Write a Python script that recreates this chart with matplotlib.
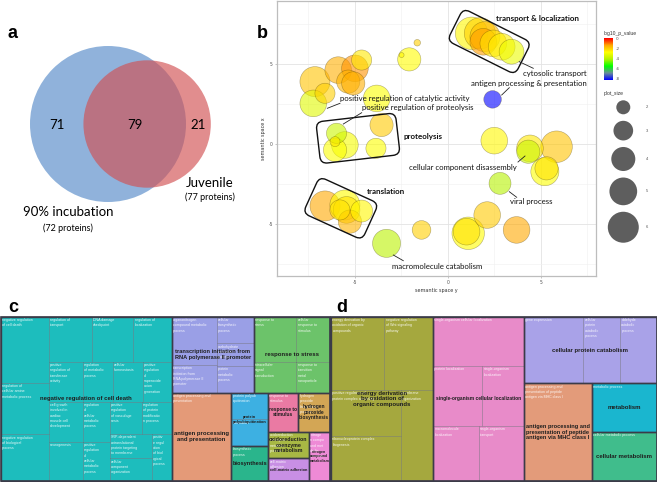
import textwrap
import numpy as np
import matplotlib
matplotlib.use("Agg")
import matplotlib.pyplot as plt
from matplotlib.patches import Circle, Rectangle, FancyBboxPatch
from matplotlib.colors import LinearSegmentedColormap, Normalize
from matplotlib.cm import ScalarMappable
from matplotlib.transforms import Affine2D
from matplotlib.textpath import TextPath
from matplotlib.font_manager import FontProperties

plt.rcParams["axes.unicode_minus"] = False

# ---------------- data: panel a (Venn) ----------------
venn_only_a = 71
venn_both = 79
venn_only_b = 21
venn_names = ["90% incubation", "Juvenile"]
venn_subs = ["(72 proteins)", "(77 proteins)"]

# ---------------- data: panel b (REVIGO scatter) ----------------
b_x = [-7.15, -6.61, -7.24, -5.90, -5.36, -5.00, -5.09, -4.64, -3.83, -2.49, -2.08, -1.65,
       -5.99, -6.07, -6.07, -5.54, -3.57, -3.87,
       -6.61, -5.54, -5.45, -5.27, -4.64, -5.81,
       -3.30, -1.42, 1.09, 1.00, 2.11, 3.69, 2.80, 2.49, 4.41, 4.32, 5.84, 5.21, 5.30, 2.40,
       1.27, 1.72, 1.99, 1.90, 2.44, 2.89, 3.42]
b_y = [3.90, 3.17, 2.54, 4.62, 3.90, 4.73, 3.79, 5.25, 2.85, 5.56, 5.29, 6.33,
       0.67, 0.15, -0.37, -0.06, 1.19, -0.27,
       -3.87, -3.81, -4.12, -4.85, -4.19, -4.12,
       -6.21, -5.37, -5.58, -5.48, -4.44, -5.37, -2.46, 0.21, -0.27, -0.48, -0.17, -1.73, -1.52, 2.79,
       6.92, 6.92, 6.71, 6.39, 6.29, 6.08, 5.77]
b_size = [5.7, 3.1, 4.7, 4.7, 3.8, 4.7, 3.8, 3.1, 4.7, 1.1, 3.8, 1.2,
          3.1, 1.5, 3.8, 4.7, 3.8, 3.1,
          5.7, 5.7, 4.7, 3.8, 3.5, 3.1,
          5.1, 2.8, 6.5, 4.7, 4.7, 4.7, 3.5, 4.7, 4.7, 3.8, 6.2, 5.1, 3.8, 2.6,
          6.5, 6.1, 5.7, 4.7, 4.7, 4.7, 4.2]
b_logp = [-1.8, -2.0, -3.3, -1.5, -1.6, -1.2, -1.5, -2.4, -2.8, -2.6, -2.7, -2.0,
          -3.7, -2.4, -2.8, -2.9, -1.9, -2.8,
          -1.4, -2.7, -2.3, -1.6, -2.6, -2.3,
          -4.0, -2.0, -2.7, -2.3, -1.9, -1.4, -4.1, -2.6, -2.4, -3.7, -1.8, -2.8, -2.3, -8.2,
          -2.6, -2.0, -1.7, -1.3, -2.3, -2.5, -3.1]
legend_sizes = [2, 3, 4, 5, 6]
cbar_ticks = [0, -2, -4, -6, -8]
b_xticks = [-5, 0, 5]
b_yticks = [-5, 0, 5]

# annotations of panel b: text, x, y (px), bold, leader line (x0, y0, x1, y1) or None
b_notes = [
    ("transport & localization", 537, 18, True, None),
    ("cytosolic transport", 555, 73.3, False, (519.3, 61.7, 533.3, 68.3)),
    ("antigen processing & presentation", 529.3, 83.3, False, (501.7, 95, 509.3, 87.7)),
    ("positive regulation of catalytic activity", 405, 99, False, (327.3, 108.3, 340, 103.3)),
    ("positive regulation of proteolysis", 417.7, 107.7, False, (343.3, 124, 361.7, 112.7)),
    ("proteolysis", 423.3, 136, True, None),
    ("cellular component disassembly", 462.7, 167.3, False, (518, 162, 525, 156)),
    ("translation", 386.3, 191, True, None),
    ("viral process", 531, 201.7, False, (509.3, 191.7, 516.7, 197.3)),
    ("macromolecule catabolism", 436.7, 266.7, False, (393.3, 255, 403.3, 260.7)),
]
# rounded cluster boxes: cx, cy, w, h, angle (px, screen)
b_boxes = [(489.2, 41.5, 76, 36, 26.6), (358, 138.3, 80, 42, -6.6), (340.8, 208.3, 65, 40, 24.5)]

# ---------------- data: panel c (treemap) ----------------
c_terms = ["negative regulation of cell death", "regulation of cellular amine metabolic process",
           "negative regulation of biological process", "regulation of transport", "DNA damage checkpoint",
           "regulation of localization", "positive regulation of transferase activity",
           "cell growth involved in cardiac muscle cell development", "neurogenesis",
           "regulation of metabolic process", "cellular homeostasis",
           "positive regulation of superoxide anion generation", "regulation of cellular metabolic process",
           "positive regulation of cellular metabolic process", "positive regulation of vasculogenesis",
           "regulation of protein modification process",
           "SRP-dependent cotranslational protein targeting to membrane", "cellular component organization",
           "positive regulation of biological process",
           "organonitrogen compound metabolic process", "transcription initiation from RNA polymerase II promoter",
           "cellular biosynthetic process", "carbohydrate metabolic process", "protein metabolic process",
           "response to stress", "intracellular signal transduction", "cellular response to stimulus",
           "response to transition metal nanoparticle",
           "antigen processing and presentation",
           "protein polyubiquitination", "translation", "biosynthetic process",
           "response to stimulus", "hydrogen peroxide biosynthetic process",
           "oxidoreduction coenzyme metabolic process", "cell-matrix adhesion",
           "nitrogen compound metabolic process"]
c_values = [28710, 22475, 20155, 17550, 16875, 15525, 12240, 12240, 11934, 10920, 10800, 10440,
            9720, 9477, 9409, 8730, 9271, 8509, 8400,
            19575, 11205, 8960, 7616, 8960,
            17280, 11904, 13500, 9300,
            47520, 8800, 8800, 11440, 10530, 11115, 9840, 8241, 9114]
c_group = [0] * 19 + [1] * 5 + [2] * 4 + [3, 4, 4, 5, 6, 7, 8, 9, 10]
c_group_labels = ["negative regulation of cell death",
                  "transcription initiation from\nRNA polymerase II promoter",
                  "response to stress", "antigen processing\nand presentation",
                  "protein\npolyubiquitination", "biosynthesis", "response to\nstimulus",
                  "hydrogen\nperoxide\nbiosynthesis", "oxidoreduction\ncoenzyme\nmetabolism",
                  "cell-matrix adhesion", "nitrogen\ncompound\nmetabolism"]
c_group_colors = ["#1dbdbd", "#9a9fe6", "#6cc36a", "#e49a78", "#3db0e2", "#2ab58c",
                  "#ea7aa3", "#d3a655", "#a8b844", "#c88fe4", "#ee8ad6"]
c_layout = ("h", [
    ("h", [("v", [0, 1, 2]),
           ("v", [("h", [3, 4, 5]),
                  ("h", [("v", [6, 7, 8]),
                         ("v", [("h", [9, 10, 11]),
                                ("h", [("v", [12, 13]),
                                       ("v", [("h", [14, 15]),
                                              ("h", [("v", [16, 17]), 18])])])])])])]),
    ("v", [("h", [("h", [("v", [19, 20]), ("v", [21, 22, 23])]),
                  ("h", [("v", [24, 25]), ("v", [26, 27])])]),
           ("h", [28,
                  ("v", [("v", [29, 30]), 31]),
                  ("v", [("h", [32, 33]), ("h", [("v", [34, 35]), 36])])])])])

# ---------------- data: panel d (treemap) ----------------
d_terms = ["energy derivation by oxidation of organic compounds",
           "negative regulation of Wnt signaling pathway",
           "positive regulation of protein complex assembly", "ribonucleoprotein complex biogenesis",
           "membrane organization",
           "single-organism cellular localization", "protein localization", "single-organism localization",
           "macromolecule localization", "single-organism transport",
           "gene expression", "cellular protein catabolic process", "aldehyde catabolic process",
           "antigen processing and presentation of peptide antigen via MHC class I",
           "metabolic process", "cellular metabolic process"]
d_values = [35200, 32340, 28980, 28140, 26384, 40404, 26640, 22500, 22632, 22140,
            36000, 22000, 22000, 59860, 28275, 28665]
d_group = [0] * 5 + [1] * 5 + [2] * 3 + [3, 4, 5]
d_group_labels = ["energy derivation\nby oxidation of\norganic compounds",
                  "single-organism cellular localization", "cellular protein catabolism",
                  "antigen processing and\npresentation of peptide\nantigen via MHC class I",
                  "metabolism", "cellular metabolism"]
d_group_colors = ["#a5a83e", "#e88bc9", "#a9a2e8", "#e39b7a", "#1ab6cf", "#40bd8c"]
d_layout = ("h", [
    ("v", [("h", [0, 1]), ("h", [("v", [2, 3]), 4])]),
    ("v", [5, ("h", [6, 7]), ("h", [8, 9])]),
    ("v", [("h", [10, 11, 12]), ("h", [13, ("v", [14, 15])])])])

# ---------------- figure ----------------
W, H = 657, 482
fig = plt.figure(figsize=(W / 100, H / 100), dpi=100)
ov = fig.add_axes([0, 0, 1, 1])
ov.set_xlim(0, W)
ov.set_ylim(H, 0)
ov.axis("off")
ov.set_zorder(10)
ov.patch.set_alpha(0)

LATO = "Lato"
SANS = "Liberation Sans"

# panel letters
for lab, (lx, ly) in zip("abcd", [(13, 33), (262, 33), (13, 307), (342, 307)]):
    ov.text(lx, ly, lab, fontsize=13, fontweight="bold", family=SANS, ha="center", va="center")

# ---------------- panel a ----------------
n_a = venn_only_a + venn_both
n_b = venn_only_b + venn_both
k = 78 / np.sqrt(n_a)
r_a, r_b = k * np.sqrt(n_a), k * np.sqrt(n_b)
target = venn_both * np.pi * k ** 2


def lens(d, r1, r2):
    a1 = r1 ** 2 * np.arccos((d ** 2 + r1 ** 2 - r2 ** 2) / (2 * d * r1))
    a2 = r2 ** 2 * np.arccos((d ** 2 + r2 ** 2 - r1 ** 2) / (2 * d * r2))
    a3 = 0.5 * np.sqrt((-d + r1 + r2) * (d + r1 - r2) * (d - r1 + r2) * (d + r1 + r2))
    return a1 + a2 - a3


lo, hi = abs(r_a - r_b) + 1e-6, r_a + r_b - 1e-6
for _ in range(80):
    mid = 0.5 * (lo + hi)
    if lens(mid, r_a, r_b) > target:
        lo = mid
    else:
        hi = mid
dist = 0.5 * (lo + hi)
cxa, cy = 108, 124
cxb = cxa + dist
ov.add_patch(Circle((cxa, cy), r_a, facecolor=(70 / 255, 128 / 255, 195 / 255), alpha=0.6, lw=0))
ov.add_patch(Circle((cxb, cy), r_b, facecolor=(209 / 255, 80 / 255, 82 / 255), alpha=0.65, lw=0))
num_y = cy + 1
ov.text(((cxa - r_a) + (cxb - r_b)) / 2, num_y, str(venn_only_a), fontsize=9.5, family=LATO, ha="center", va="center")
ov.text(((cxb - r_b) + (cxa + r_a)) / 2, num_y, str(venn_both), fontsize=9.5, family=LATO, ha="center", va="center")
ov.text(((cxa + r_a) + (cxb + r_b)) / 2, num_y, str(venn_only_b), fontsize=9.5, family=LATO, ha="center", va="center")
ov.text(cxa - 40, cy + r_a + 10, venn_names[0], fontsize=9.5, family=LATO, ha="center", va="center")
ov.text(cxa - 40, cy + r_a + 26, venn_subs[0], fontsize=6.5, family=LATO, ha="center", va="center")
ov.text(cxb + r_b - 1, cy + 59, venn_names[1], fontsize=9.5, family=LATO, ha="center", va="center")
ov.text(cxb + r_b - 1, cy + 73, venn_subs[1], fontsize=6.5, family=LATO, ha="center", va="center")

# ---------------- panel b ----------------
ax = fig.add_axes([277 / W, 1 - 276 / H, 319 / W, 275 / H])
ax.set_xlim(-9.19, 7.96)
ax.set_ylim(-8.25, 8.94)
ax.set_xticks(b_xticks)
ax.set_yticks(b_yticks)
ax.set_xticks([-7.5, -2.5, 2.5, 7.5], minor=True)
ax.set_yticks([-7.5, -2.5, 2.5, 7.5], minor=True)
ax.grid(True, which="major", color="#e3e3e3", lw=0.6)
ax.grid(True, which="minor", color="#f0f0f0", lw=0.4)
ax.set_axisbelow(True)
for s in ax.spines.values():
    s.set_color("#bdbdbd")
    s.set_linewidth(0.9)
ax.tick_params(which="major", labelsize=3.3, labelcolor="#555555", color="#999999", length=1.5, width=0.4, pad=1.5)
ax.tick_params(which="minor", length=0)
ax.set_xlabel("semantic space y", fontsize=3.5, color="#333333", labelpad=2)
ax.set_ylabel("semantic space x", fontsize=3.5, color="#333333", labelpad=2)

# blue -> green -> yellow -> red with perceptual-like midpoints (as ggplot's Lab interpolation)
cmap = LinearSegmentedColormap.from_list(
    "rev", [(0, "#0000ff"), (1 / 6, "#6a8e9a"), (1 / 3, "#00ff00"), (0.5, "#b5f200"),
            (2 / 3, "#ffff00"), (5 / 6, "#ffa800"), (1, "#ff0000")])
norm = Normalize(vmin=min(b_logp), vmax=0)


def size_to_pts2(v):
    diam_px = np.sqrt(np.maximum(196 + 191 * (np.asarray(v, float) - 2), 4))
    return (diam_px * 0.72) ** 2


order = np.argsort(-np.asarray(b_size), kind="stable")
bx = np.asarray(b_x)[order]
by = np.asarray(b_y)[order]
bs = np.asarray(b_size)[order]
bp = np.asarray(b_logp)[order]
cols = cmap(norm(bp))
cols[:, 3] = 0.6
ax.scatter(bx, by, s=size_to_pts2(bs), c=cols, edgecolors=(0.25, 0.2, 0, 0.4), linewidths=0.4, zorder=3)

for txt, tx, ty, bold, ln in b_notes:
    ov.text(tx, ty, txt, fontsize=5.6 if not bold else 5.8, family=LATO,
            fontweight="bold" if bold else "normal", ha="center", va="center", color="#111111")
    if ln is not None:
        ov.plot([ln[0], ln[2]], [ln[1], ln[3]], color="#222222", lw=0.6)

for bcx, bcy, bw, bh, ang in b_boxes:
    p = FancyBboxPatch((bcx - bw / 2, bcy - bh / 2), bw, bh,
                       boxstyle="round,pad=0,rounding_size=7", fill=False, ec="#111111", lw=1.0)
    p.set_transform(Affine2D().rotate_deg_around(bcx, bcy, ang) + ov.transData)
    ov.add_patch(p)

# colour bar
cax = fig.add_axes([604 / W, 1 - 80 / H, 8.7 / W, 41.7 / H])
cb = fig.colorbar(ScalarMappable(norm=norm, cmap=cmap), cax=cax, ticks=cbar_ticks)
cb.outline.set_visible(False)
cax.tick_params(labelsize=3, labelcolor="#555555", length=0, pad=2)
ov.text(604, 33, "log10_p_value", fontsize=3.6, color="#333333", ha="left", va="center", family=SANS)
ov.text(604, 93, "plot_size", fontsize=3.6, color="#333333", ha="left", va="center", family=SANS)

# size legend
leg_ax = fig.add_axes([0, 0, 1, 1])
leg_ax.set_xlim(0, W)
leg_ax.set_ylim(H, 0)
leg_ax.axis("off")
leg_ax.patch.set_alpha(0)
diams = np.sqrt(196 + 191 * (np.asarray(legend_sizes, float) - 2))
ycent = [107.3]
for i in range(1, len(legend_sizes)):
    ycent.append(ycent[-1] + (diams[i - 1] + diams[i]) / 2 + 6.5)
leg_ax.scatter([623.3] * len(legend_sizes), ycent, s=size_to_pts2(legend_sizes), c="#5e5e5e", lw=0)
for v, yy in zip(legend_sizes, ycent):
    leg_ax.text(647.3, yy, str(v), fontsize=3, color="#555555", ha="center", va="center", family=SANS)


# ---------------- treemaps ----------------
def node_sum(node, vals):
    if isinstance(node, int):
        return vals[node]
    return sum(node_sum(kk, vals) for kk in node[1])


def layout(node, x, y, w, h, vals, out):
    if isinstance(node, int):
        out[node] = (x, y, w, h)
        return
    dirn, kids = node
    tots = [node_sum(kk, vals) for kk in kids]
    T = float(sum(tots))
    pos = x if dirn == "h" else y
    for kk, t in zip(kids, tots):
        if dirn == "h":
            ww = w * t / T
            layout(kk, pos, y, ww, h, vals, out)
            pos += ww
        else:
            hh = h * t / T
            layout(kk, x, pos, w, hh, vals, out)
            pos += hh


fp_bold = FontProperties(family=SANS, weight="bold")


def text_width_1pt(s):
    return max(TextPath((0, 0), ln, size=1, prop=fp_bold).get_extents().width for ln in s.split("\n"))


def draw_treemap(x0, y0, w, h, layout_spec, terms, vals, groups, glabels, gcolors):
    rects = {}
    layout(layout_spec, x0, y0, w, h, vals, rects)
    for i, term in enumerate(terms):
        rx, ry, rw, rh = rects[i]
        ov.add_patch(Rectangle((rx, ry), rw, rh, facecolor=gcolors[groups[i]],
                               edgecolor=(0.25, 0.25, 0.3, 0.35), lw=0.5))
        nchar = max(5, int((rw - 3) / 2.25))
        ov.text(rx + 1.4, ry + 1.3, "\n".join(textwrap.wrap(term, nchar)), fontsize=2.6,
                color="white", alpha=0.9, ha="left", va="top", family=SANS, linespacing=1.45)
    for g, lab in enumerate(glabels):
        idx = [i for i in range(len(terms)) if groups[i] == g]
        gx0 = min(rects[i][0] for i in idx)
        gy0 = min(rects[i][1] for i in idx)
        gx1 = max(rects[i][0] + rects[i][2] for i in idx)
        gy1 = max(rects[i][1] + rects[i][3] for i in idx)
        gw, gh = gx1 - gx0, gy1 - gy0
        ov.add_patch(Rectangle((gx0, gy0), gw, gh, fill=False, edgecolor="#3b3b48", lw=1.0))
        nl = lab.count("\n") + 1
        fs = min(4.3, 0.92 * gw / (text_width_1pt(lab) * 100 / 72), 0.85 * gh / (nl * 1.2 * 100 / 72))
        ov.text((gx0 + gx1) / 2, (gy0 + gy1) / 2, lab, fontsize=fs, fontweight="bold", family=SANS,
                color="#1e1e1e", ha="center", va="center", multialignment="center", linespacing=1.15)
    ov.add_patch(Rectangle((x0, y0), w, h, fill=False, edgecolor="#3b3b48", lw=1.2))


draw_treemap(0.5, 316.7, 329.0, 164.0, c_layout, c_terms, c_values, c_group, c_group_labels, c_group_colors)
draw_treemap(331.0, 316.7, 325.5, 164.0, d_layout, d_terms, d_values, d_group, d_group_labels, d_group_colors)

fig.savefig("out.png", dpi=100)
